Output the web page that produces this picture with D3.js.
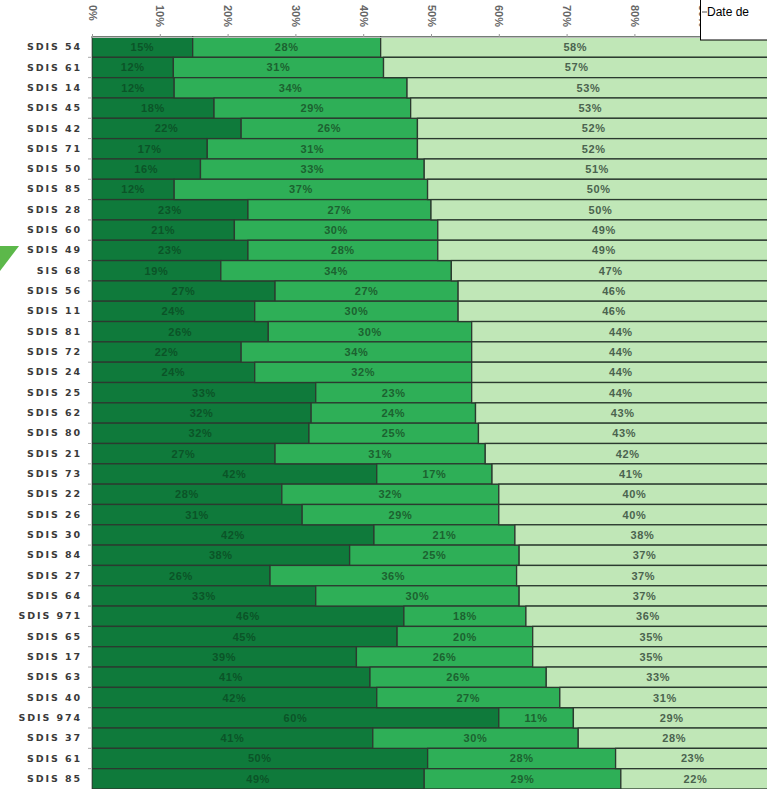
<!DOCTYPE html>
<html>
<head>
<meta charset="utf-8">
<script src="https://cdn.jsdelivr.net/npm/d3@7"></script>
<style>
  body { margin: 0; background: #fff; }
  svg { display: block; font-family: Arial, "Liberation Sans", sans-serif; }
</style>
</head>
<body>
<div id="chart"></div>
<script>
// categories, top to bottom
const categories = [
  "SDIS 54", "SDIS 61", "SDIS 14", "SDIS 45", "SDIS 42", "SDIS 71", "SDIS 50",
  "SDIS 85", "SDIS 28", "SDIS 60", "SDIS 49", "SIS 68", "SDIS 56", "SDIS 11",
  "SDIS 81", "SDIS 72", "SDIS 24", "SDIS 25", "SDIS 62", "SDIS 80", "SDIS 21",
  "SDIS 73", "SDIS 22", "SDIS 26", "SDIS 30", "SDIS 84", "SDIS 27", "SDIS 64",
  "SDIS 971", "SDIS 65", "SDIS 17", "SDIS 63", "SDIS 40", "SDIS 974", "SDIS 37",
  "SDIS 61", "SDIS 85"
];

// the three stacked shares (%)
const darkShare = [15, 12, 12, 18, 22, 17, 16, 12, 23, 21, 23, 19, 27, 24, 26, 22, 24, 33, 32, 32, 27, 42, 28, 31, 42, 38, 26, 33, 46, 45, 39, 41, 42, 60, 41, 50, 49];
const midShare = [28, 31, 34, 29, 26, 31, 33, 37, 27, 30, 28, 34, 27, 30, 30, 34, 32, 23, 24, 25, 31, 17, 32, 29, 21, 25, 36, 30, 18, 20, 26, 26, 27, 11, 30, 28, 29];
const lightShare = [58, 57, 53, 53, 52, 52, 51, 50, 50, 49, 49, 47, 46, 46, 44, 44, 44, 44, 43, 43, 42, 41, 40, 40, 38, 37, 37, 37, 36, 35, 35, 33, 31, 29, 28, 23, 22];

const seriesKeys = ["dark", "mid", "light"];
// the 100% tick falls outside the window
const tickValues = [0, 0.1, 0.2, 0.3, 0.4, 0.5, 0.6, 0.7, 0.8, 0.9];
const legendText = "Date de";

const width = 767;
const height = 789;
const marginLeft = 92;
const marginTop = 37;

const colors = { dark: "#0f7a3b", mid: "#2eaf57", light: "#c0e7b7" };
const textColors = { dark: "#0a4520", mid: "#1b5a2c", light: "#3e5544" };

const table = categories.map((c, i) => ({
  idx: i, name: c, dark: darkShare[i], mid: midShare[i], light: lightShare[i]
}));

// 100% stacked
const stacked = d3.stack().keys(seriesKeys).offset(d3.stackOffsetExpand)(table);

const x = d3.scaleLinear().domain([0, 1]).range([marginLeft, 770]);
const y = d3.scaleBand().domain(d3.range(categories.length)).range([marginTop, height]).padding(0);

const svg = d3.select("#chart")
  .append("svg")
  .attr("width", width)
  .attr("height", height);

// bars
const layers = svg.append("g")
  .selectAll("g")
  .data(stacked)
  .join("g")
  .attr("fill", (d) => colors[d.key]);

layers.selectAll("rect")
  .data((d) => d)
  .join("rect")
  .attr("x", (d) => x(d[0]))
  .attr("y", (d) => y(d.data.idx))
  .attr("width", (d) => x(d[1]) - x(d[0]))
  .attr("height", y.bandwidth())
  .attr("stroke", "#2b3a2f")
  .attr("stroke-width", 1.3);

// value labels
layers.each(function (layer) {
  d3.select(this)
    .selectAll("text")
    .data(layer)
    .join("text")
    .attr("x", (d) => (x(d[0]) + x(d[1])) / 2)
    .attr("y", (d) => y(d.data.idx) + y.bandwidth() / 2)
    .attr("dy", "0.36em")
    .attr("text-anchor", "middle")
    .attr("font-size", 11)
    .attr("font-weight", "bold")
    .attr("letter-spacing", 0.6)
    .attr("fill", textColors[layer.key])
    .attr("opacity", layer.key === "dark" ? 0.7 : 0.9)
    .text((d) => d.data[layer.key] + "%");
});

// top axis
const xAxis = svg.append("g")
  .attr("transform", `translate(0,${marginTop})`)
  .call(d3.axisTop(x).tickValues(tickValues).tickSize(3).tickFormat(d3.format(".0%")));
xAxis.select(".domain").attr("stroke", "#bbb");
xAxis.selectAll(".tick line").attr("stroke", "#999");
xAxis.selectAll(".tick text")
  .attr("transform", `translate(0,${-marginTop + 5}) rotate(90)`)
  .attr("x", 0)
  .attr("y", 0)
  .attr("dy", "0.35em")
  .attr("text-anchor", "start")
  .attr("font-size", 11)
  .attr("font-weight", "bold")
  .attr("fill", "#666");

// left axis
const yAxis = svg.append("g")
  .attr("transform", `translate(${marginLeft - 1},0)`)
  .call(d3.axisLeft(y).tickSize(0).tickPadding(9).tickFormat((i) => categories[i]));
yAxis.select(".domain").attr("stroke", "#bbb");
yAxis.selectAll(".tick text")
  .attr("font-family", "'DejaVu Sans', sans-serif")
  .attr("font-size", 9.5)
  .attr("font-weight", "bold")
  .attr("letter-spacing", 1.9)
  .attr("fill", "#3a3a3a");

// small ticks between rows
svg.append("g")
  .selectAll("line")
  .data(d3.range(1, categories.length))
  .join("line")
  .attr("x1", marginLeft - 4)
  .attr("x2", marginLeft - 1)
  .attr("y1", (d) => y(d))
  .attr("y2", (d) => y(d))
  .attr("stroke", "#aaa");

// legend box (cut at the right edge)
const legend = svg.append("g").attr("transform", "translate(700,0)");
legend.append("rect")
  .attr("x", 0.5)
  .attr("y", -2)
  .attr("width", 80)
  .attr("height", 42)
  .attr("fill", "#fff")
  .attr("stroke", "#000");
legend.append("line")
  .attr("x1", 2).attr("x2", 7)
  .attr("y1", 12).attr("y2", 12)
  .attr("stroke", "#555");
legend.append("text")
  .attr("x", 7)
  .attr("y", 16)
  .attr("font-size", 12)
  .attr("fill", "#000")
  .text(legendText);

// green corner marker at the left edge
svg.append("path")
  .attr("d", "M0,246 L19,246 L0,271 Z")
  .attr("fill", "#5cb84a");
</script>
</body>
</html>
